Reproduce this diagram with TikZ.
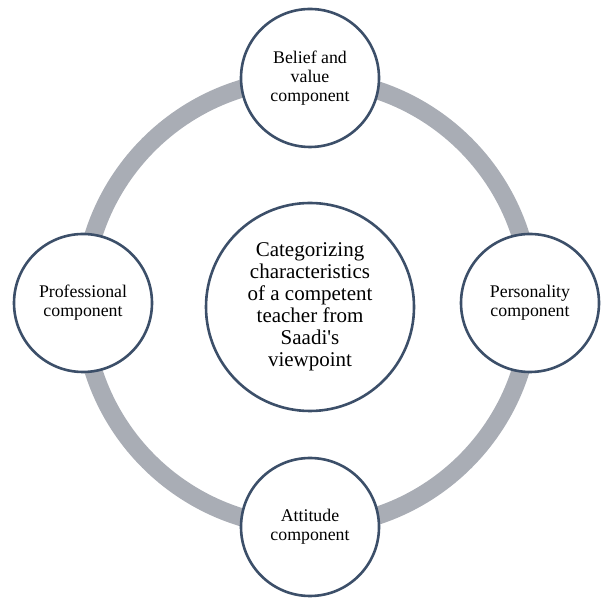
\documentclass[tikz,border=0pt]{standalone}
\usepackage{fontspec}
\setmainfont[Ligatures=NoCommon]{Liberation Serif}
\definecolor{ringgray}{HTML}{A9ADB5}
\definecolor{edgeblue}{HTML}{3C4F69}
\begin{document}
\begin{tikzpicture}[x=1pt,y=1pt,
  outer/.style={circle,draw=edgeblue,line width=2.6pt,fill=white,minimum size=138pt,inner sep=0pt,align=center,font=\fontsize{17.8}{19}\selectfont},
  inner/.style={circle,draw=edgeblue,line width=2.6pt,fill=white,minimum size=208pt,inner sep=0pt,align=center,font=\fontsize{21}{22}\selectfont},
  ring/.style={draw=ringgray,line width=18pt}]
\useasboundingbox (0,0) rectangle (600,604);
\coordinate (rc) at (307,301);
\draw[ring] (rc) circle[radius=224];
\node[inner] (c) at (310,297) {Categorizing\\characteristics\\of a competent\\teacher from\\Saadi\textquotesingle s\\viewpoint};
\node[outer] (t) at (310,526) {Belief and\\value\\component};
\node[outer] (r) at (530,301) {Personality\\component};
\node[outer] (b) at (310,77) {Attitude\\component};
\node[outer] (l) at (83,301) {Professional\\component};
\end{tikzpicture}
\end{document}
